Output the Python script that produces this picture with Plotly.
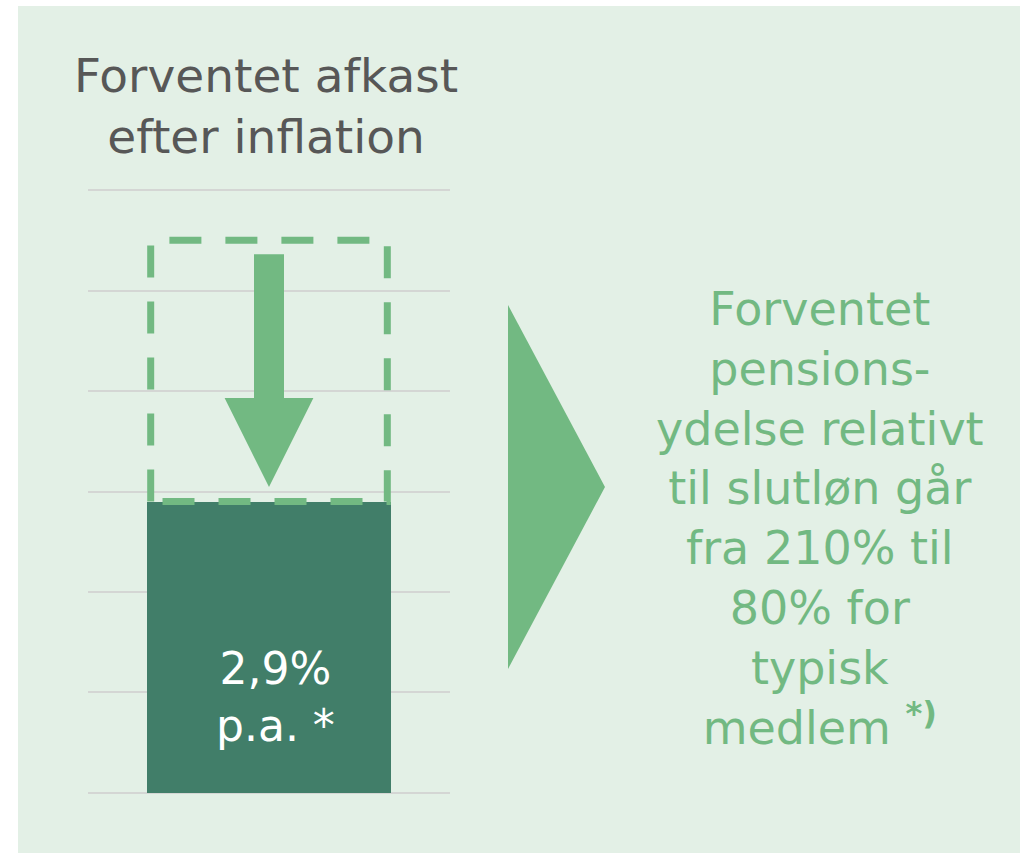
import plotly.graph_objects as go

# data
afkast_foer = 5.5      # dashed box: previous expected return level
afkast_nu = 2.9        # bar: expected return after inflation
bar_label = "2,9%<br>p.a. *"
title_text = "Forventet afkast<br>efter inflation"
right_text = ("Forventet<br>pensions-<br>ydelse relativt<br>til slutløn går<br>"
              "fra 210% til<br>80% for<br>typisk<br>medlem <b><sup>*)</sup></b>")
y_ticks = [0, 1, 2, 3, 4, 5, 6]

DARK = "#417e69"
LIGHT = "#72b982"
BG = "#e3f0e6"
GREY = "#575757"
FONT = "DejaVu Sans"

W, H = 1030, 855
bar_w = 1.0
half = bar_w / 2
inset = 0.015

fig = go.Figure()

# bar
fig.add_trace(go.Bar(x=[0], y=[afkast_nu], width=bar_w, marker=dict(color=DARK, line=dict(width=0)),
                     hoverinfo="skip", showlegend=False))

# dashed box from old level down to new level
bx = half - inset
fig.add_trace(go.Scatter(
    x=[-bx, -bx, bx, bx, -bx],
    y=[afkast_nu, afkast_foer, afkast_foer, afkast_nu, afkast_nu],
    mode="lines", line=dict(color=LIGHT, width=7, dash="32px,24px"),
    hoverinfo="skip", showlegend=False))

# arrow pointing down from old level to new level
top = afkast_foer - 0.14
tip = afkast_nu + 0.145
head = tip + 0.885
sw, hw = 0.0615, 0.182
fig.add_trace(go.Scatter(
    x=[-sw, sw, sw, hw, 0, -hw, -sw, -sw],
    y=[top, top, head, head, tip, head, head, top],
    mode="lines", fill="toself", fillcolor=LIGHT, line=dict(color=LIGHT, width=0),
    hoverinfo="skip", showlegend=False))

# panel background
fig.add_shape(type="rect", xref="paper", yref="paper", x0=18 / W, x1=1020 / W,
              y0=1 - 853 / H, y1=1 - 6 / H, fillcolor=BG, line=dict(width=0), layer="below")

# big triangle
fig.add_shape(type="path", xref="paper", yref="paper",
              path=f"M {508/W},{1-305/H} L {605/W},{1-487/H} L {508/W},{1-669/H} Z",
              fillcolor=LIGHT, line=dict(width=0))

fig.add_annotation(x=266 / W, y=1 - 106 / H, xref="paper", yref="paper", text=title_text,
                   xanchor="center", yanchor="middle",
                   showarrow=False, font=dict(family=FONT, size=47, color=GREY), align="center")
fig.add_annotation(x=0, y=1 - 697 / H, xref="x", yref="paper", xshift=6, text=bar_label,
                   xanchor="center", yanchor="middle",
                   showarrow=False, font=dict(family=FONT, size=44, color="white"), align="center")
fig.add_annotation(x=820 / W, y=1 - 518 / H, xref="paper", yref="paper", text=right_text,
                   xanchor="center", yanchor="middle",
                   showarrow=False, font=dict(family=FONT, size=46, color=LIGHT), align="center")

pad = 0.02
fig.update_layout(
    width=W, height=H, margin=dict(l=0, r=0, t=0, b=0),
    paper_bgcolor="white", plot_bgcolor="rgba(0,0,0,0)",
    xaxis=dict(domain=[88 / W, 450 / W], range=[-0.742, 0.742], visible=False, fixedrange=True),
    yaxis=dict(domain=[1 - 795 / H, 1 - 188 / H], range=[-pad, 6 + pad], tickvals=y_ticks,
               showticklabels=False, showgrid=True, gridcolor="#d4d6d4", gridwidth=2,
               zeroline=False, showline=False, fixedrange=True),
    bargap=0,
)

fig.write_html("out.html", config={"displayModeBar": False},
               post_script="document.body.style.margin='0';")
